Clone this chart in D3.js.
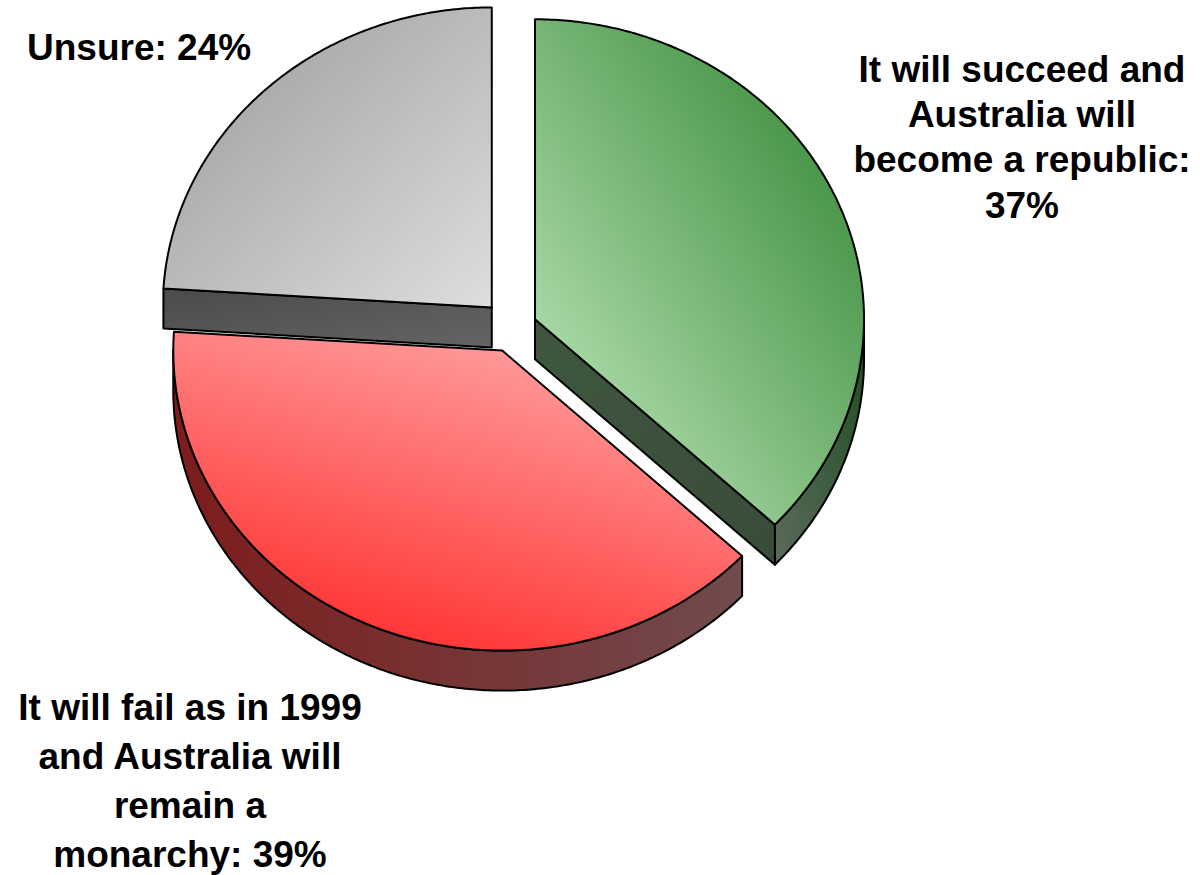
<!DOCTYPE html>
<html>
<head>
<meta charset="utf-8">
<script src="https://cdn.jsdelivr.net/npm/d3@7"></script>
<style>
  body { margin: 0; background: #ffffff; }
  svg { display: block; }
  .lbl { font-family: "Liberation Sans", Arial, sans-serif; font-weight: bold; font-size: 37px; fill: #000; }
</style>
</head>
<body>
<svg id="chart" width="1200" height="875"></svg>
<script>
// ---- data ----
const categories = [
  "It will succeed and Australia will become a republic",
  "It will fail as in 1999 and Australia will remain a monarchy",
  "Unsure"
];
const values = [37, 39, 24];
const explodeBy = [24, 27, 31];
const labelLines = [
  ["It will succeed and", "Australia will", "become a republic:", "37%"],
  ["It will fail as in 1999", "and Australia will", "remain a", "monarchy: 39%"],
  ["Unsure: 24%"]
];

// ---- styling ----
const topColors  = [["#a8d8a5", "#378937"], ["#ff2c2c", "#ffa4a4"], ["#9c9c9c", "#dedede"]];
const rimColors  = [["#5a6b5a", "#1f4d22"], ["#7d1c1c", "#714b4d"], ["#4b4b4b", "#646464"]];
const faceColors = [["#3f573f", "#394c39"], ["#7d1c1c", "#714b4d"], ["#4b4b4b", "#646464"]];
const topGrad = [
  { x1: 0.25, y1: 0.85, x2: 0.95, y2: 0.12 },
  { x1: 0.25, y1: 1.0,  x2: 0.72, y2: 0.0 },
  { x1: 0.05, y1: 0.05, x2: 1.0,  y2: 1.0 }
];
const labelLayout = [
  { x: 1022, y: 82,  lh: 45.2, anchor: "middle" },
  { x: 190,  y: 720, lh: 49,   anchor: "middle" },
  { x: 27,   y: 60,  lh: 45,   anchor: "start" }
];

// ---- geometry of the tilted pie ----
const cx = 513, cy = 328, rx = 329, ry = 300, depth = 40;
const k = ry / rx;

const svg = d3.select("#chart");
const defs = svg.append("defs");

const pie = d3.pie().sort(null).startAngle(0).endAngle(2 * Math.PI);
const arcs = pie(values).map((d, i) => {
  const m = (d.startAngle + d.endAngle) / 2;
  const e = explodeBy[i];
  return Object.assign(d, { i, mid: m, ox: e * Math.sin(m), oy: -e * k * Math.cos(m) });
});

const pt = (d, a, z = 0) => [cx + d.ox + rx * Math.sin(a), cy + d.oy - ry * Math.cos(a) + z];
const apex = (d, z = 0) => [cx + d.ox, cy + d.oy + z];
const samples = (a0, a1) => {
  const n = Math.max(2, Math.ceil((a1 - a0) / 0.01));
  return d3.range(n + 1).map(j => a0 + (a1 - a0) * j / n);
};
const line = d3.line().curve(d3.curveLinear);

function linGrad(id, stops, g) {
  const lg = defs.append("linearGradient").attr("id", id)
    .attr("x1", g.x1).attr("y1", g.y1).attr("x2", g.x2).attr("y2", g.y2);
  lg.append("stop").attr("offset", 0).attr("stop-color", stops[0]);
  lg.append("stop").attr("offset", 1).attr("stop-color", stops[1]);
  return `url(#${id})`;
}

// back-to-front order by the depth of each slice's centre direction
const order = arcs.slice().sort((a, b) => (-Math.cos(a.mid)) - (-Math.cos(b.mid)));

const slices = svg.append("g")
  .attr("stroke", "#000").attr("stroke-width", 2).attr("stroke-linejoin", "round");

order.forEach(d => {
  const g = slices.append("g").attr("class", "slice");
  const i = d.i;
  const a0 = d.startAngle, a1 = d.endAngle;

  // outer curved wall, only the front half faces the viewer
  const s = Math.max(a0, Math.PI / 2), e = Math.min(a1, 3 * Math.PI / 2);
  if (e > s) {
    const top = samples(s, e).map(a => pt(d, a));
    const bottom = samples(s, e).reverse().map(a => pt(d, a, depth));
    g.append("path")
      .attr("d", line(top.concat(bottom)) + "Z")
      .attr("fill", linGrad("rim" + i, rimColors[i], i === 0 ? { x1: 0, y1: 1, x2: 1, y2: 0 } : { x1: 0, y1: 0, x2: 1, y2: 0 }));
  }

  // flat cut faces along the radial edges
  const cut = (a) => [apex(d), pt(d, a), pt(d, a, depth), apex(d, depth)];
  const faceFill = linGrad("face" + i, faceColors[i], { x1: 0, y1: 0, x2: 1, y2: 1 });
  if (a0 > Math.PI + 1e-6 && a0 < 2 * Math.PI - 1e-6) {
    g.append("path").attr("d", line(cut(a0)) + "Z").attr("fill", faceFill);
  }
  if (a1 > 1e-6 && a1 < Math.PI - 1e-6) {
    g.append("path").attr("d", line(cut(a1)) + "Z").attr("fill", faceFill);
  }

  // top face
  const rim = samples(a0, a1).map(a => pt(d, a));
  g.append("path")
    .attr("d", line([apex(d)].concat(rim)) + "Z")
    .attr("fill", linGrad("top" + i, topColors[i], topGrad[i]));
});

// ---- labels ----
arcs.forEach(d => {
  const L = labelLayout[d.i];
  const t = svg.append("text").attr("class", "lbl")
    .attr("text-anchor", L.anchor)
    .attr("x", L.x).attr("y", L.y);
  labelLines[d.i].forEach((ln, j) => {
    t.append("tspan").attr("x", L.x).attr("y", L.y + j * L.lh).text(ln);
  });
});
</script>
</body>
</html>
